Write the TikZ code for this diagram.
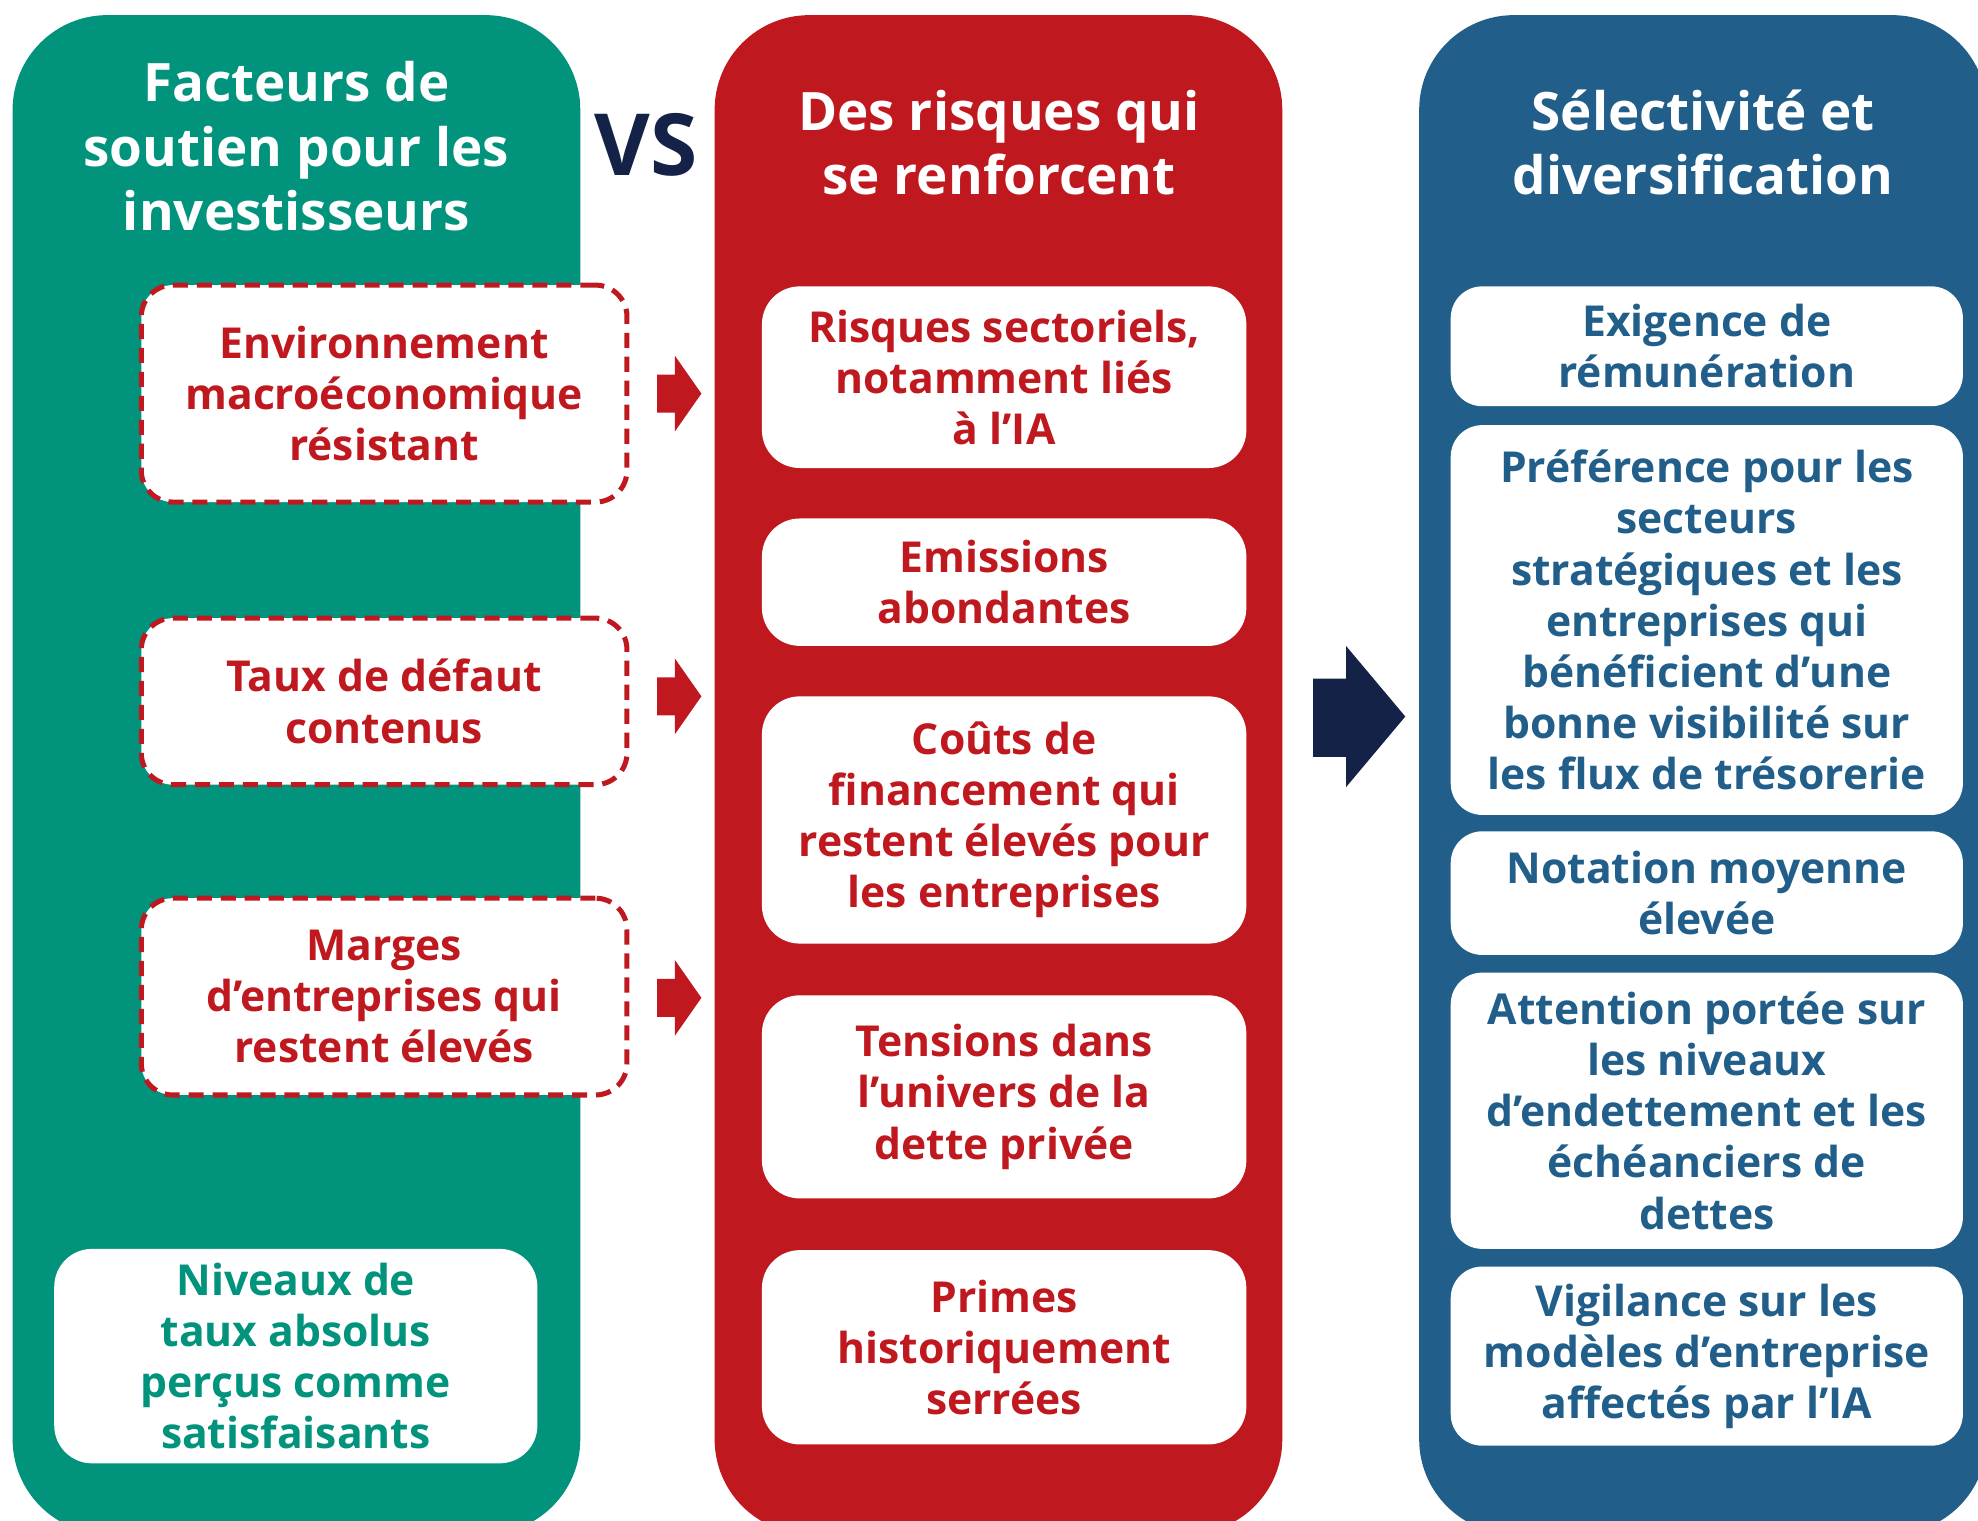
\documentclass[tikz,border=0pt]{standalone}
\usepackage{fontspec}
\setmainfont{Open Sans}
\definecolor{greenc}{RGB}{2,147,124}
\definecolor{redc}{RGB}{191,25,31}
\definecolor{bluec}{RGB}{33,95,138}
\definecolor{navyc}{RGB}{20,34,72}
\begin{document}
\begin{tikzpicture}[x=0.5pt,y=-0.5pt,
  column/.style={rectangle,rounded corners=37.5pt,inner sep=0pt,minimum width=225pt,minimum height=602pt},
  coltitle/.style={text=white,align=center,font=\fontsize{21}{25.5}\selectfont\bfseries},
  boxtext/.style={align=center,inner sep=0pt,font=\fontsize{16.9}{20.25}\selectfont\bfseries},
  dashbox/.style={boxtext,draw=redc,fill=white,line width=2pt,dash pattern=on 6pt off 3.5pt,rounded corners=12.5pt,minimum width=192.5pt,text=redc},
  redbox/.style={boxtext,fill=white,rounded corners=15pt,minimum width=192pt,text=redc},
  bluebox/.style={boxtext,fill=white,rounded corners=12.5pt,minimum width=203pt,text=bluec},
  greenbox/.style={boxtext,fill=white,rounded corners=15pt,minimum width=191.5pt,text=greenc},
  smallarrow/.pic={\fill[redc] (0,-15) -- (14,-15) -- (14,-30) -- (35,0) -- (14,30) -- (14,15) -- (0,15) -- cycle;}
]
\useasboundingbox (0,0) rectangle (1568,1205);
\clip (0,0) rectangle (1568,1205);
% columns
\node[column,fill=greenc] (gcol) at (235,614) {};
\node[column,fill=redc] (rcol) at (791.5,614) {};
\node[column,fill=bluec] (bcol) at (1350,614) {};
% titles
\node[coltitle] (gtitle) at (235,116) {Facteurs de\\soutien pour les\\investisseurs};
\node[coltitle] (rtitle) at (792,113) {Des risques qui\\se renforcent};
\node[coltitle] (btitle) at (1350,113) {Sélectivité et\\diversification};
\node[text=navyc,font=\fontsize{34}{40}\selectfont\bfseries] (vs) at (512,115) {VS};
% left column boxes
\node[dashbox,minimum height=86pt] (d1) at (304.5,312) {Environnement\\macroéconomique\\résistant};
\node[dashbox,minimum height=66pt] (d2) at (304.5,556) {Taux de défaut\\contenus};
\node[dashbox,minimum height=78pt] (d3) at (304.5,790) {Marges\\d’entreprises qui\\restent élevés};
\node[greenbox,minimum height=85pt] (g1) at (234.5,1075) {Niveaux de\\taux absolus\\perçus comme\\satisfaisants};
% arrows
\pic at (521,312) {smallarrow};
\pic at (521,552) {smallarrow};
\pic at (521,791) {smallarrow};
\fill[navyc] (1041,538) -- (1067,538) -- (1067,512) -- (1114,568) -- (1067,624) -- (1067,600) -- (1041,600) -- cycle;
% middle column boxes
\node[redbox,minimum height=72pt] (r1) at (796,299) {Risques sectoriels,\\notamment liés\\à l’IA};
\node[redbox,minimum height=50.5pt] (r2) at (796,461.5) {Emissions\\abondantes};
\node[redbox,minimum height=98pt] (r3) at (796,650) {Coûts de\\financement qui\\restent élevés pour\\les entreprises};
\node[redbox,minimum height=80.5pt] (r4) at (796,869.5) {Tensions dans\\l’univers de la\\dette privée};
\node[redbox,minimum height=77pt] (r5) at (796,1068) {Primes\\historiquement\\serrées};
% right column boxes
\node[bluebox,minimum height=47.5pt] (b1) at (1353,274.5) {Exigence de\\rémunération};
\node[bluebox,minimum height=154.5pt] (b2) at (1353,491.5) {Préférence pour les\\secteurs\\stratégiques et les\\entreprises qui\\bénéficient d’une\\bonne visibilité sur\\les flux de trésorerie};
\node[bluebox,minimum height=49pt] (b3) at (1353,708) {Notation moyenne\\élevée};
\node[bluebox,minimum height=109.5pt] (b4) at (1353,880.5) {Attention portée sur\\les niveaux\\d’endettement et les\\échéanciers de\\dettes};
\node[bluebox,minimum height=71pt] (b5) at (1353,1075) {Vigilance sur les\\modèles d’entreprise\\affectés par l’IA};
\end{tikzpicture}
\end{document}
